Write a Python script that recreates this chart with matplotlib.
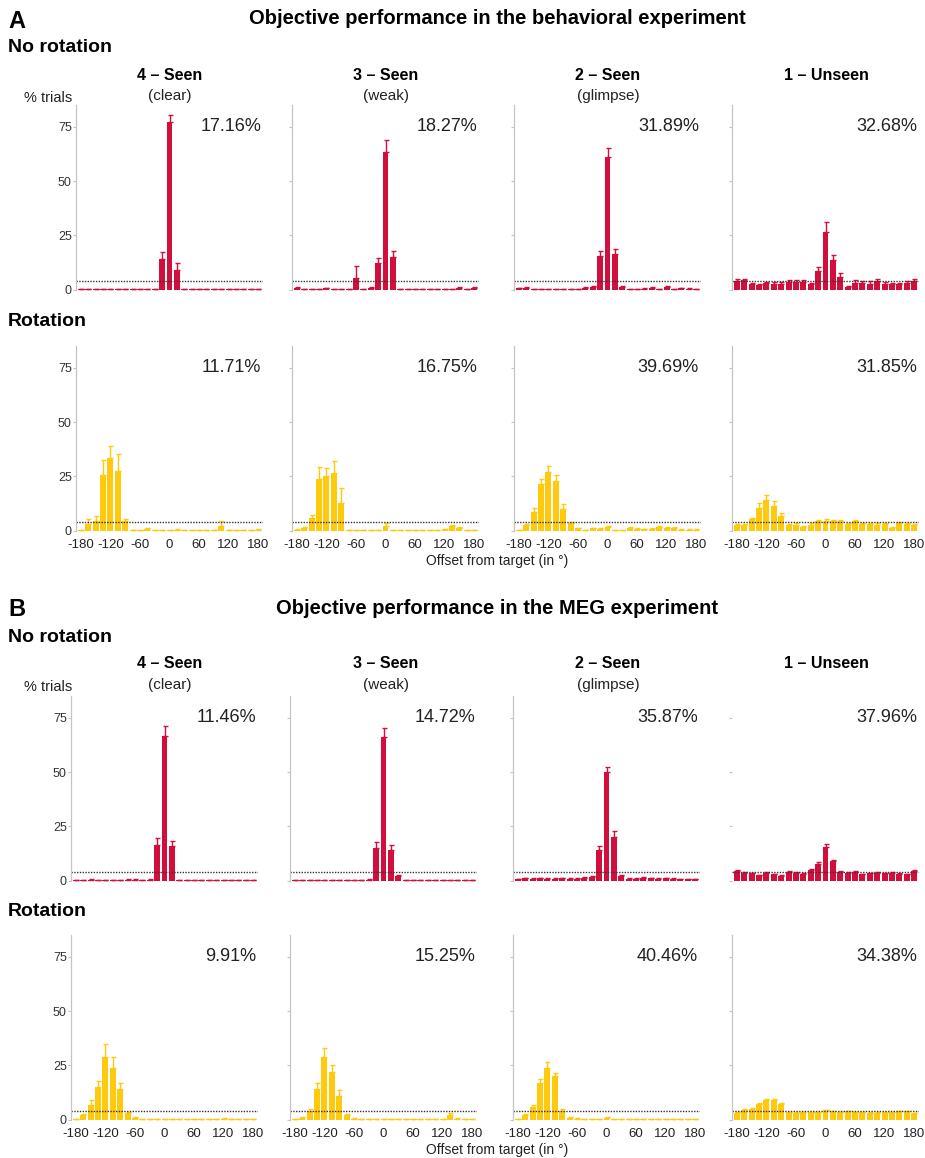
import matplotlib
matplotlib.use('Agg')
import matplotlib.pyplot as plt
from matplotlib import font_manager

# ---- data: % trials per offset bin (15 deg bins), upper error bars ----
offsets = [-180, -165, -150, -135, -120, -105, -90, -75, -60, -45, -30, -15, 0,
           15, 30, 45, 60, 75, 90, 105, 120, 135, 150, 165, 180]
chance_level = 4.17

# A: behavioral experiment, no rotation
a_nr_clear = [0.2, 0.2, 0.2, 0.2, 0.2, 0.2, 0.2, 0.2, 0.2, 0.2, 0.2, 14, 77, 9, 0.2, 0.2, 0.2, 0.2, 0.2, 0.2, 0.2, 0.2, 0.2, 0.2, 0.2]
a_nr_clear_err = [0.1, 0.1, 0.1, 0.1, 0.1, 0.1, 0.1, 0.1, 0.1, 0.1, 0.1, 3.5, 3.2, 3.5, 0.1, 0.1, 0.1, 0.1, 0.1, 0.1, 0.1, 0.1, 0.1, 0.1, 0.1]
a_nr_weak = [1, 0.2, 0.2, 0.2, 0.7, 0.2, 0.2, 0.2, 5.5, 0.2, 1, 12.3, 63.6, 15.2, 0.2, 0.2, 0.2, 0.2, 0.2, 0.2, 0.2, 0.2, 1, 0.2, 1]
a_nr_weak_err = [0.3, 0.1, 0.1, 0.1, 0.2, 0.1, 0.1, 0.1, 5.5, 0.1, 0.3, 2.3, 5.4, 2.8, 0.1, 0.1, 0.1, 0.1, 0.1, 0.1, 0.1, 0.1, 0.3, 0.1, 0.3]
a_nr_glimpse = [0.7, 1, 0.4, 0.2, 0.5, 0.5, 0.2, 0.2, 0.2, 1, 1.5, 15.5, 61, 16.4, 1.5, 0.5, 0.2, 0.6, 1, 0.2, 1.3, 0.2, 0.8, 0.6, 0.5]
a_nr_glimpse_err = [0.2, 0.3, 0.1, 0.1, 0.1, 0.1, 0.1, 0.1, 0.1, 0.3, 0.4, 2.3, 4, 2.3, 0.4, 0.1, 0.1, 0.2, 0.3, 0.1, 0.3, 0.1, 0.2, 0.2, 0.1]
a_nr_unseen = [4.2, 4.5, 2.5, 2.3, 3, 2.7, 2.8, 3.5, 3.4, 3.7, 2.5, 8.8, 26.6, 13.7, 5.8, 1.5, 3.3, 3, 2.8, 4, 2.8, 2.5, 2.5, 3, 4]
a_nr_unseen_err = [0.8, 0.7, 0.5, 0.5, 0.6, 0.7, 0.6, 0.8, 1.1, 0.9, 0.6, 1.8, 4.6, 2.3, 1.8, 0.4, 1, 1, 1.2, 0.8, 0.6, 0.6, 0.5, 1, 0.8]

# A: behavioral experiment, rotation
a_r_clear = [0.2, 3, 4.6, 25.5, 33.5, 27.4, 4.6, 0.2, 0.2, 0.8, 0.2, 0.2, 0.3, 0.6, 0.2, 0.2, 0.2, 0.2, 0.2, 2, 0.2, 0.2, 0.2, 0.2, 0.6]
a_r_clear_err = [0.1, 2.5, 2.4, 7, 5.5, 8, 1, 0.1, 0.1, 0.3, 0.1, 0.1, 0.1, 0.2, 0.1, 0.1, 0.1, 0.1, 0.1, 2.5, 0.1, 0.1, 0.1, 0.1, 0.2]
a_r_weak = [0.5, 1.5, 5.7, 23.8, 25, 26.5, 13, 0.3, 0.2, 0.2, 0.2, 0.2, 2, 0.2, 0.2, 0.2, 0.2, 0.2, 0.2, 0.2, 0.8, 2, 1.5, 0.3, 0.2]
a_r_weak_err = [0.2, 0.4, 1.5, 5.7, 4, 5.5, 6.7, 0.1, 0.1, 0.1, 0.1, 0.1, 1.7, 0.1, 0.1, 0.1, 0.1, 0.1, 0.1, 0.1, 0.2, 0.5, 0.4, 0.1, 0.1]
a_r_glimpse = [0.3, 2.6, 8.5, 21.5, 27, 23, 10, 3.4, 1.2, 0.3, 1.1, 1, 1.8, 0.3, 0.2, 1.5, 0.8, 0.7, 0.8, 1.8, 1.2, 1.5, 0.6, 0.5, 0.6]
a_r_glimpse_err = [0.2, 0.5, 2, 2.5, 3, 2.5, 2.3, 0.8, 0.3, 0.2, 0.3, 0.3, 0.5, 0.2, 0.2, 0.4, 0.3, 0.3, 0.3, 0.5, 0.4, 0.4, 0.2, 0.2, 0.2]
a_r_unseen = [2.8, 2.5, 5.5, 10.6, 14, 11.4, 6.8, 2.8, 2.9, 1.7, 2.9, 4.5, 4.3, 4.3, 4.3, 3.2, 4.3, 3.2, 3.1, 2.9, 3.2, 1.5, 3.4, 3.1, 2.8]
a_r_unseen_err = [0.5, 0.5, 0.6, 2.2, 2.3, 2.1, 1.5, 0.5, 0.5, 0.4, 0.5, 0.6, 1.2, 0.6, 0.6, 0.5, 0.6, 0.5, 0.5, 0.5, 0.5, 0.4, 0.6, 0.5, 0.5]

# B: MEG experiment, no rotation
b_nr_clear = [0.2, 0.2, 0.5, 0.2, 0.2, 0.3, 0.2, 0.6, 0.6, 0.2, 0.5, 16.4, 66.5, 15.9, 0.2, 0.2, 0.2, 0.2, 0.2, 0.2, 0.2, 0.2, 0.2, 0.2, 0.2]
b_nr_clear_err = [0.1, 0.1, 0.2, 0.1, 0.1, 0.1, 0.1, 0.2, 0.2, 0.1, 0.2, 3.4, 4.5, 2.5, 0.1, 0.1, 0.1, 0.1, 0.1, 0.1, 0.1, 0.1, 0.1, 0.1, 0.1]
b_nr_weak = [0.3, 0.2, 0.3, 0.2, 0.3, 0.2, 0.3, 0.2, 0.3, 0.2, 0.5, 15, 66, 14, 2, 0.2, 0.3, 0.2, 0.3, 0.2, 0.3, 0.2, 0.4, 0.2, 0.3]
b_nr_weak_err = [0.1, 0.1, 0.1, 0.1, 0.1, 0.1, 0.1, 0.1, 0.1, 0.1, 0.2, 3, 4.5, 2.5, 0.5, 0.1, 0.1, 0.1, 0.1, 0.1, 0.1, 0.1, 0.1, 0.1, 0.1]
b_nr_glimpse = [0.8, 1.1, 1.0, 1.2, 0.9, 1.0, 1.1, 0.9, 1.0, 1.3, 1.8, 14, 50, 20, 2, 0.9, 1.0, 1.3, 1.1, 0.9, 1.2, 1.0, 0.8, 0.8, 0.7]
b_nr_glimpse_err = [0.2, 0.3, 0.2, 0.3, 0.2, 0.2, 0.3, 0.2, 0.2, 0.3, 0.4, 2, 2.5, 3, 0.5, 0.2, 0.2, 0.3, 0.3, 0.2, 0.3, 0.2, 0.2, 0.2, 0.2]
b_nr_unseen = [4.5, 3.6, 3.4, 2.5, 3.6, 3, 2.3, 4.2, 3.7, 3.1, 5.2, 7.9, 15.4, 9, 4.2, 3.6, 4.2, 3, 3.4, 3.6, 3.4, 3.6, 3.2, 3, 4.5]
b_nr_unseen_err = [0.4, 0.3, 0.3, 0.3, 0.3, 0.3, 0.3, 0.3, 0.3, 0.3, 0.4, 0.6, 1.6, 0.7, 0.3, 0.3, 0.3, 0.3, 0.3, 0.3, 0.3, 0.3, 0.3, 0.3, 0.4]

# B: MEG experiment, rotation
b_r_clear = [0.2, 2, 7, 15, 29, 24, 14, 3, 1, 0.3, 0.2, 0.2, 0.3, 0.2, 0.2, 0.3, 0.2, 0.2, 0.3, 0.2, 0.5, 0.2, 0.3, 0.2, 0.3]
b_r_clear_err = [0.1, 0.5, 2, 3, 6, 5, 3, 0.5, 0.3, 0.1, 0.1, 0.1, 0.1, 0.1, 0.1, 0.1, 0.1, 0.1, 0.1, 0.1, 0.2, 0.1, 0.1, 0.1, 0.1]
b_r_weak = [0.3, 1, 4, 14, 29, 22, 11, 2, 0.5, 0.3, 0.3, 0.3, 0.3, 0.3, 0.3, 0.3, 0.3, 0.3, 0.3, 0.3, 0.3, 2, 0.5, 0.3, 0.3]
b_r_weak_err = [0.1, 0.3, 1, 3, 4, 3, 2.5, 0.5, 0.2, 0.1, 0.1, 0.1, 0.1, 0.1, 0.1, 0.1, 0.1, 0.1, 0.1, 0.1, 0.1, 1, 0.2, 0.1, 0.1]
b_r_glimpse = [0.3, 2, 6, 17, 24, 20, 4, 1, 0.5, 0.3, 0.3, 0.3, 1, 0.3, 0.3, 0.3, 0.3, 0.3, 0.3, 0.3, 0.3, 0.3, 0.3, 0.3, 0.3]
b_r_glimpse_err = [0.1, 0.5, 1, 2, 2.5, 1.5, 0.8, 0.3, 0.2, 0.1, 0.1, 0.1, 0.3, 0.1, 0.1, 0.1, 0.1, 0.1, 0.1, 0.1, 0.1, 0.1, 0.1, 0.1, 0.1]
b_r_unseen = [3.2, 4.5, 5, 7.2, 9.2, 9.2, 7.2, 3.5, 3.2, 3.5, 3.5, 3.5, 4.3, 3.9, 3.5, 3.9, 3.5, 3.4, 3.2, 3.2, 3.4, 3.5, 3.9, 3.9, 3]
b_r_unseen_err = [0.3, 0.3, 0.4, 0.6, 0.6, 0.6, 0.5, 0.3, 0.3, 0.3, 0.3, 0.3, 0.4, 0.3, 0.3, 0.3, 0.3, 0.3, 0.3, 0.3, 0.3, 0.3, 0.3, 0.3, 0.3]

col_titles = ['4 \u2013 Seen', '3 \u2013 Seen', '2 \u2013 Seen', '1 \u2013 Unseen']
col_subtitles = ['(clear)', '(weak)', '(glimpse)', '']
a_nr_pct = ['17.16%', '18.27%', '31.89%', '32.68%']
a_r_pct = ['11.71%', '16.75%', '39.69%', '31.85%']
b_nr_pct = ['11.46%', '14.72%', '35.87%', '37.96%']
b_r_pct = ['9.91%', '15.25%', '40.46%', '34.38%']

red = '#D20F3C'
yellow = '#FFC90E'

names = {f.name for f in font_manager.fontManager.ttflist}
narrow = 'Liberation Sans Narrow' if 'Liberation Sans Narrow' in names else 'Liberation Sans'
plt.rcParams['font.family'] = ['Liberation Sans', 'DejaVu Sans']
plt.rcParams['axes.unicode_minus'] = False

W, H = 925, 1158
fig = plt.figure(figsize=(W / 100, H / 100), dpi=100)


def ftext(x, y, s, **kw):
    fig.text(x / W, 1 - y / H, s, **kw)


def panel(left, top, vals, errs, color, pct, first_col, xlabels, hide_spine=False):
    ax = fig.add_axes([left / W, 1 - (top + 187) / H, 187 / W, 187 / H])
    ax.bar(offsets, vals, width=12, color=color, edgecolor='none')
    ax.errorbar(offsets, vals, yerr=[[0] * len(errs), errs], fmt='none',
                ecolor=color, elinewidth=1, capsize=1.8, capthick=1)
    ax.axhline(chance_level, color='#333333', lw=1, ls=(0, (1, 1)))
    ax.set_xlim(-190, 190)
    ax.set_ylim(-1, 85)
    for s in ['top', 'right', 'bottom']:
        ax.spines[s].set_visible(False)
    ax.spines['left'].set_color('#c4c4c4')
    ax.spines['left'].set_linewidth(0.9)
    ax.spines['left'].set_bounds(0, 85)
    if hide_spine:
        ax.spines['left'].set_visible(False)
    ax.set_yticks([0, 25, 50, 75])
    ax.tick_params(axis='y', length=2, color='#c4c4c4', labelsize=9,
                   labelcolor='#333333', pad=1, labelleft=first_col)
    ax.set_xticks([-180, -120, -60, 0, 60, 120, 180])
    ax.tick_params(axis='x', length=0, labelsize=9.5, labelcolor='#222222',
                   pad=4.5, labelbottom=xlabels)
    ax.text(186, 75, pct, ha='right', va='center', fontsize=13, color='#222222')
    ax.set_facecolor('none')
    return ax


lefts_a = [76, 292, 514, 732]
lefts_b = [71, 290, 513, 732]
centers = [170, 386, 608, 826]

sections = [
    dict(letter='A', title='Objective performance in the behavioral experiment', y0=0,
         lefts=lefts_a, tops=[105, 346],
         nr=[a_nr_clear, a_nr_weak, a_nr_glimpse, a_nr_unseen],
         nr_err=[a_nr_clear_err, a_nr_weak_err, a_nr_glimpse_err, a_nr_unseen_err],
         r=[a_r_clear, a_r_weak, a_r_glimpse, a_r_unseen],
         r_err=[a_r_clear_err, a_r_weak_err, a_r_glimpse_err, a_r_unseen_err],
         nr_pct=a_nr_pct, r_pct=a_r_pct, hide=False),
    dict(letter='B', title='Objective performance in the MEG experiment', y0=589,
         lefts=lefts_b, tops=[696, 935],
         nr=[b_nr_clear, b_nr_weak, b_nr_glimpse, b_nr_unseen],
         nr_err=[b_nr_clear_err, b_nr_weak_err, b_nr_glimpse_err, b_nr_unseen_err],
         r=[b_r_clear, b_r_weak, b_r_glimpse, b_r_unseen],
         r_err=[b_r_clear_err, b_r_weak_err, b_r_glimpse_err, b_r_unseen_err],
         nr_pct=b_nr_pct, r_pct=b_r_pct, hide=True),
]

for sec in sections:
    y0 = sec['y0']
    ftext(8, y0 + 21, sec['letter'], fontsize=17, fontweight='bold', va='center', family=narrow)
    ftext(497, y0 + 19, sec['title'], fontsize=14.5, fontweight='bold', ha='center',
          va='center', family=narrow)
    ftext(8, y0 + 48, 'No rotation', fontsize=14, fontweight='bold', va='center', family=narrow)
    for i in range(4):
        ftext(centers[i], y0 + 75, col_titles[i], fontsize=11.5, fontweight='bold',
              ha='center', va='center', family=narrow)
        if col_subtitles[i]:
            ftext(centers[i], y0 + 96, col_subtitles[i], fontsize=11, ha='center',
                  va='center', color='#222222')
    ftext(24, y0 + 98, '% trials', fontsize=10.5, va='center', color='#222222')
    for i in range(4):
        panel(sec['lefts'][i], sec['tops'][0], sec['nr'][i], sec['nr_err'][i], red,
              sec['nr_pct'][i], i == 0, False, hide_spine=(sec['hide'] and i == 3))
        panel(sec['lefts'][i], sec['tops'][1], sec['r'][i], sec['r_err'][i], yellow,
              sec['r_pct'][i], i == 0, True)
    ftext(8, sec['tops'][1] - 24, 'Rotation', fontsize=14, fontweight='bold',
          va='center', family=narrow)
    ftext(497, sec['tops'][1] + 215, 'Offset from target (in \u00b0)', fontsize=10,
          ha='center', va='center', color='#222222')

fig.savefig('out.png', dpi=100, facecolor='white')
